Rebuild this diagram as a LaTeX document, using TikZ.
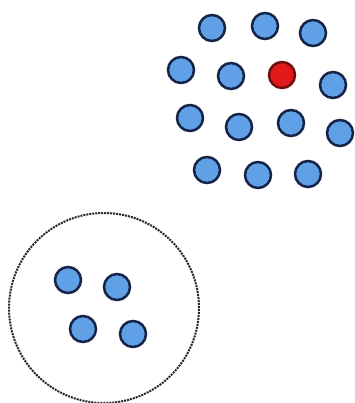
\documentclass[tikz,border=0pt]{standalone}
\begin{document}
\begin{tikzpicture}[x=1pt,y=-1pt,
  dot/.style={circle,draw=navy,fill=ball,line width=2.5pt,minimum size=26pt,inner sep=0pt},
  reddot/.style={dot,fill=redball,draw=darkred},
  ring/.style={circle,draw=black!85,densely dotted,line width=2pt,minimum size=190pt,inner sep=0pt}]
\definecolor{navy}{RGB}{20,35,70}
\definecolor{ball}{RGB}{95,160,230}
\definecolor{redball}{RGB}{225,25,25}
\definecolor{darkred}{RGB}{110,15,15}
\useasboundingbox (0,0) rectangle (354,403);
\node[dot] (a1) at (212,28) {};
\node[dot] (a2) at (265,26) {};
\node[dot] (a3) at (313,33) {};
\node[dot] (b1) at (181,70) {};
\node[dot] (b2) at (231,76) {};
\node[reddot] (b3) at (282,75) {};
\node[dot] (b4) at (333,85) {};
\node[dot] (c1) at (190,118) {};
\node[dot] (c2) at (239,127) {};
\node[dot] (c3) at (291,123) {};
\node[dot] (c4) at (340,133) {};
\node[dot] (d1) at (207,170) {};
\node[dot] (d2) at (258,175) {};
\node[dot] (d3) at (308,174) {};
\node[ring] (r) at (104,308) {};
\node[dot] (e1) at (68,280) {};
\node[dot] (e2) at (117,287) {};
\node[dot] (e3) at (83,329) {};
\node[dot] (e4) at (133,334) {};
\end{tikzpicture}
\end{document}
